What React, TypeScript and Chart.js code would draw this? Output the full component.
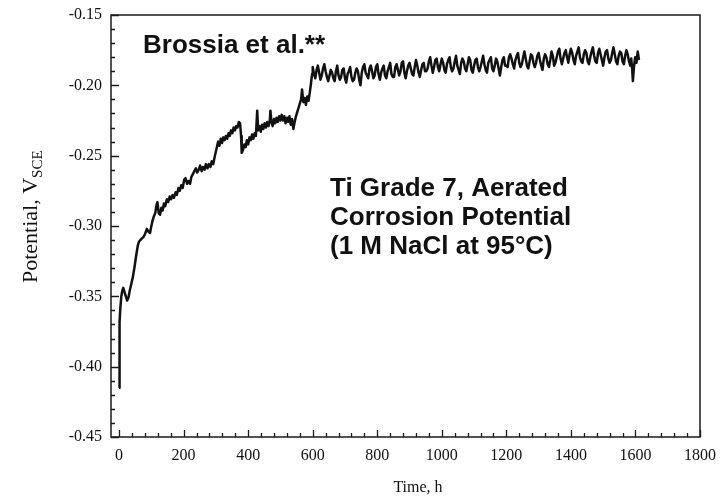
import React, { useEffect, useRef } from "react";
import { Chart, registerables } from "chart.js";

Chart.register(...registerables);

// ---------- axis ticks ----------
const xTickValues = [0, 200, 400, 600, 800, 1000, 1200, 1400, 1600, 1800];
const yTickValues = [-0.45, -0.4, -0.35, -0.3, -0.25, -0.2, -0.15];

// ---------- data: corrosion potential (V SCE) vs time (h) ----------
const startTimes = [0, 1, 2, 4, 7, 10, 13, 17, 21, 25, 29, 33, 38, 43, 48, 53, 58, 62, 66, 70, 75, 80, 86, 91, 96, 100];
const startPotential = [
  -0.415, -0.39, -0.368, -0.358, -0.35, -0.346, -0.344, -0.347, -0.35, -0.353, -0.351, -0.346, -0.341,
  -0.336, -0.329, -0.321, -0.314, -0.311, -0.31, -0.309, -0.308, -0.306, -0.302, -0.304, -0.305, -0.3,
];

const riseTimes = [
  104, 108, 112, 116, 119, 123, 127, 131, 135, 139, 143, 148, 152, 157, 161, 166, 170, 175, 179, 184, 188,
  193, 197, 202, 206, 211, 215, 220, 224, 229, 233, 238, 242, 247, 251, 256, 260, 265, 269, 274, 278, 283,
  287, 292, 296, 300,
];
const risePotential = [
  -0.296, -0.293, -0.291, -0.285, -0.283, -0.291, -0.292, -0.287, -0.289, -0.284, -0.286, -0.281, -0.283,
  -0.279, -0.281, -0.278, -0.28, -0.276, -0.278, -0.273, -0.275, -0.271, -0.273, -0.267, -0.266, -0.27,
  -0.268, -0.27, -0.265, -0.263, -0.261, -0.259, -0.262, -0.26, -0.257, -0.261, -0.258, -0.26, -0.256,
  -0.259, -0.256, -0.258, -0.254, -0.256, -0.251, -0.247,
];

const midTimes = [
  303, 307, 311, 315, 319, 323, 327, 331, 335, 339, 343, 347, 351, 355, 359, 363, 367, 371, 375, 378, 380,
  384, 388, 392, 396, 400, 404, 408, 412, 416, 420, 424, 428, 431, 435, 439, 443, 447, 451, 455, 459, 463,
  467, 469, 472, 476, 480, 484, 488, 492, 496, 500, 504, 508, 512, 516, 520, 524, 528, 532, 536, 540, 544,
  548, 552, 556, 560, 564, 567, 571, 575, 579, 583, 587, 591, 595, 598,
];
const midPotential = [
  -0.244, -0.24, -0.243, -0.238, -0.241, -0.237, -0.239, -0.236, -0.238, -0.234, -0.236, -0.232, -0.234,
  -0.23, -0.232, -0.229, -0.23, -0.226, -0.227, -0.236, -0.248, -0.246, -0.242, -0.244, -0.239, -0.242,
  -0.237, -0.239, -0.235, -0.238, -0.234, -0.236, -0.218, -0.232, -0.229, -0.233, -0.228, -0.231, -0.227,
  -0.23, -0.226, -0.229, -0.225, -0.218, -0.226, -0.229, -0.224, -0.227, -0.223, -0.226, -0.222, -0.225,
  -0.221, -0.225, -0.222, -0.227, -0.223, -0.226, -0.222, -0.228, -0.224, -0.231, -0.226, -0.222, -0.219,
  -0.216, -0.213, -0.21, -0.203, -0.212, -0.209, -0.214, -0.208, -0.211, -0.205, -0.198, -0.192,
];

const plateauTimesA = [
  600, 604, 608, 612, 616, 620, 624, 628, 632, 636, 640, 644, 648, 652, 656, 660, 664, 668, 672, 676, 680,
  684, 688, 692, 696, 700, 704, 708, 712, 716, 720, 724, 728, 732, 736, 740, 744, 748, 752, 756, 760, 764,
  768, 772, 776, 780, 784, 788, 792, 796,
];
const plateauPotentialA = [
  -0.187, -0.192, -0.195, -0.189, -0.186, -0.191, -0.196, -0.193, -0.188, -0.185, -0.19, -0.194, -0.197,
  -0.193, -0.189, -0.191, -0.195, -0.197, -0.19, -0.186, -0.193, -0.196, -0.194, -0.189, -0.188, -0.195,
  -0.198, -0.192, -0.19, -0.187, -0.194, -0.197, -0.196, -0.191, -0.188, -0.19, -0.196, -0.2, -0.191,
  -0.187, -0.185, -0.191, -0.193, -0.195, -0.188, -0.186, -0.19, -0.195, -0.193, -0.187,
];

const plateauTimesB = [
  800, 804, 808, 812, 816, 820, 824, 828, 832, 836, 840, 844, 848, 852, 856, 860, 864, 868, 872, 876, 880,
  884, 888, 892, 896, 900, 904, 908, 912, 916, 920, 924, 928, 932, 936, 940, 944, 948, 952, 956, 960, 964,
  968, 972, 976, 980, 984, 988, 992, 996,
];
const plateauPotentialB = [
  -0.185, -0.192, -0.196, -0.191, -0.188, -0.186, -0.193, -0.195, -0.19, -0.187, -0.184, -0.192, -0.194,
  -0.194, -0.187, -0.185, -0.189, -0.193, -0.19, -0.184, -0.183, -0.191, -0.195, -0.19, -0.186, -0.184,
  -0.188, -0.192, -0.193, -0.187, -0.182, -0.186, -0.191, -0.194, -0.189, -0.185, -0.184, -0.19, -0.19,
  -0.188, -0.183, -0.18, -0.186, -0.191, -0.187, -0.182, -0.181, -0.187, -0.19, -0.185,
];

const plateauTimesC = [
  1000, 1004, 1008, 1012, 1016, 1020, 1024, 1028, 1032, 1036, 1040, 1044, 1048, 1052, 1056, 1060, 1064,
  1068, 1072, 1076, 1080, 1084, 1088, 1092, 1096, 1100, 1104, 1108, 1112, 1116, 1120, 1124, 1128, 1132,
  1136, 1140, 1144, 1148, 1152, 1156, 1160, 1164, 1168, 1172, 1176, 1180, 1184, 1188, 1192, 1196,
];
const plateauPotentialC = [
  -0.181, -0.184, -0.189, -0.191, -0.185, -0.182, -0.18, -0.187, -0.19, -0.188, -0.183, -0.179, -0.186,
  -0.189, -0.192, -0.184, -0.181, -0.183, -0.188, -0.19, -0.185, -0.18, -0.182, -0.189, -0.191, -0.186,
  -0.182, -0.181, -0.187, -0.19, -0.187, -0.183, -0.179, -0.185, -0.189, -0.191, -0.184, -0.182, -0.18,
  -0.188, -0.19, -0.186, -0.181, -0.183, -0.188, -0.193, -0.187, -0.182, -0.18, -0.186,
];

const plateauTimesD = [
  1200, 1204, 1208, 1212, 1216, 1220, 1224, 1228, 1232, 1236, 1240, 1244, 1248, 1252, 1256, 1260, 1264,
  1268, 1272, 1276, 1280, 1284, 1288, 1292, 1296, 1300, 1304, 1308, 1312, 1316, 1320, 1324, 1328, 1332,
  1336, 1340, 1344, 1348, 1352, 1356, 1360, 1364, 1368, 1372, 1376, 1380, 1384, 1388, 1392, 1396,
];
const plateauPotentialD = [
  -0.186, -0.187, -0.18, -0.178, -0.181, -0.185, -0.188, -0.182, -0.179, -0.177, -0.184, -0.187, -0.185,
  -0.18, -0.176, -0.181, -0.186, -0.188, -0.183, -0.178, -0.179, -0.184, -0.187, -0.184, -0.179, -0.177,
  -0.182, -0.186, -0.189, -0.181, -0.178, -0.18, -0.185, -0.187, -0.182, -0.176, -0.179, -0.186, -0.184,
  -0.18, -0.176, -0.174, -0.181, -0.185, -0.181, -0.177, -0.175, -0.18, -0.184, -0.178,
];

const plateauTimesE = [
  1400, 1404, 1408, 1412, 1416, 1420, 1424, 1428, 1432, 1436, 1440, 1444, 1448, 1452, 1456, 1460, 1464,
  1468, 1472, 1476, 1480, 1484, 1488, 1492, 1496, 1500, 1504, 1508, 1512, 1516, 1520, 1524, 1528, 1532,
  1536, 1540, 1544, 1548, 1552, 1556, 1560, 1564, 1568, 1572, 1576, 1580, 1584, 1587, 1590, 1592, 1595,
  1599, 1603, 1607, 1611,
];
const plateauPotentialE = [
  -0.174, -0.177, -0.182, -0.185, -0.179, -0.176, -0.173, -0.18, -0.183, -0.184, -0.178, -0.175, -0.177,
  -0.183, -0.185, -0.18, -0.176, -0.173, -0.179, -0.183, -0.184, -0.177, -0.174, -0.178, -0.182, -0.186,
  -0.18, -0.176, -0.175, -0.181, -0.184, -0.182, -0.177, -0.173, -0.178, -0.183, -0.185, -0.179, -0.176,
  -0.177, -0.183, -0.185, -0.179, -0.175, -0.178, -0.183, -0.186, -0.181, -0.189, -0.197, -0.188, -0.18,
  -0.184, -0.176, -0.182,
];

const annotationTitle = "Brossia et al.**";
const annotationLines = ["Ti Grade 7, Aerated", "Corrosion Potential", "(1 M NaCl at 95°C)"];
const xTitle = "Time, h";
const yTitleMain = "Potential, V";
const yTitleSub = "SCE";

const timeSegments = [
  startTimes,
  riseTimes,
  midTimes,
  plateauTimesA,
  plateauTimesB,
  plateauTimesC,
  plateauTimesD,
  plateauTimesE,
];
const potentialSegments = [
  startPotential,
  risePotential,
  midPotential,
  plateauPotentialA,
  plateauPotentialB,
  plateauPotentialC,
  plateauPotentialD,
  plateauPotentialE,
];

const SERIF = '"Liberation Serif", "DejaVu Serif", serif';
const SANS = '"Liberation Sans", Arial, sans-serif';

const framePlugin = {
  id: "frameAndTicks",
  afterDraw(chart: any) {
    const { ctx, chartArea } = chart;
    const { left, right, top, bottom } = chartArea;
    const xs = chart.scales.x;
    const ys = chart.scales.y;
    ctx.save();
    ctx.strokeStyle = "#1a1a1a";
    ctx.lineWidth = 1.5;
    ctx.strokeRect(left, top, right - left, bottom - top);
    ctx.lineWidth = 1.3;
    ctx.beginPath();
    for (let v = 0; v <= 1800; v += 40) {
      const px = Math.round(xs.getPixelForValue(v)) + 0.5;
      const major = v % 200 === 0;
      ctx.moveTo(px, bottom);
      ctx.lineTo(px, bottom - (major ? 7 : 4));
    }
    for (let i = 0; i <= 30; i++) {
      const v = -0.45 + i * 0.01;
      const py = Math.round(ys.getPixelForValue(v)) + 0.5;
      const major = i % 5 === 0;
      ctx.moveTo(left, py);
      ctx.lineTo(left + (major ? 8 : 4), py);
    }
    ctx.stroke();
    ctx.restore();
  },
};

const textPlugin = {
  id: "texts",
  afterDraw(chart: any) {
    const { ctx } = chart;
    ctx.save();
    ctx.fillStyle = "#111";
    ctx.textBaseline = "alphabetic";
    ctx.textAlign = "left";
    ctx.font = `bold 26px ${SANS}`;
    ctx.fillText(annotationTitle, 143, 53);
    const baselines = [196, 225, 254];
    annotationLines.forEach((t, i) => ctx.fillText(t, 330, baselines[i]));

    ctx.font = `16px ${SERIF}`;
    ctx.textAlign = "center";
    ctx.fillText(xTitle, 418, 492);

    ctx.save();
    ctx.translate(37, 283);
    ctx.rotate(-Math.PI / 2);
    ctx.textAlign = "left";
    ctx.font = `22px ${SERIF}`;
    ctx.fillText(yTitleMain, 0, 0);
    const w = ctx.measureText(yTitleMain).width;
    ctx.font = `15px ${SERIF}`;
    ctx.fillText(yTitleSub, w, 5);
    ctx.restore();
    ctx.restore();
  },
};

export default function App() {
  const canvasRef = useRef<HTMLCanvasElement | null>(null);

  useEffect(() => {
    if (!canvasRef.current) return;
    const points: { x: number; y: number }[] = [];
    timeSegments.forEach((ts, si) => {
      ts.forEach((t, i) => points.push({ x: t, y: potentialSegments[si][i] }));
    });

    const chart = new Chart(canvasRef.current, {
      type: "line",
      data: {
        datasets: [
          {
            data: points,
            borderColor: "#111",
            borderWidth: 2.5,
            pointRadius: 0,
            tension: 0,
            borderJoinStyle: "round",
            fill: false,
          },
        ],
      },
      options: {
        animation: false,
        responsive: true,
        maintainAspectRatio: false,
        devicePixelRatio: 1,
        layout: { padding: { left: 0, right: 21, top: 15, bottom: 0 } },
        plugins: { legend: { display: false }, tooltip: { enabled: false }, title: { display: false } },
        scales: {
          x: {
            type: "linear",
            min: -25,
            max: 1800,
            grid: { display: false, drawTicks: false },
            border: { display: false },
            afterBuildTicks: (scale: any) => {
              scale.ticks = xTickValues.map((v) => ({ value: v }));
            },
            afterFit: (scale: any) => {
              scale.height = 64;
              scale.paddingLeft = 0;
              scale.paddingRight = 0;
            },
            ticks: {
              autoSkip: false,
              maxRotation: 0,
              padding: 9,
              color: "#111",
              font: { family: SERIF, size: 16 },
              callback: (v: any) => String(v),
            },
          },
          y: {
            type: "linear",
            min: -0.45,
            max: -0.15,
            grid: { display: false, drawTicks: false },
            border: { display: false },
            afterBuildTicks: (scale: any) => {
              scale.ticks = yTickValues.map((v) => ({ value: v }));
            },
            afterFit: (scale: any) => {
              scale.width = 111;
              scale.paddingTop = 0;
              scale.paddingBottom = 0;
            },
            ticks: {
              autoSkip: false,
              padding: 9,
              color: "#111",
              font: { family: SERIF, size: 16 },
              callback: (v: any) => Number(v).toFixed(2),
            },
          },
        },
      },
      plugins: [framePlugin, textPlugin],
    });
    return () => chart.destroy();
  }, []);

  return (
    <div style={{ position: "absolute", left: 0, top: 0, width: 721, height: 501 }}>
      <canvas ref={canvasRef} />
    </div>
  );
}
